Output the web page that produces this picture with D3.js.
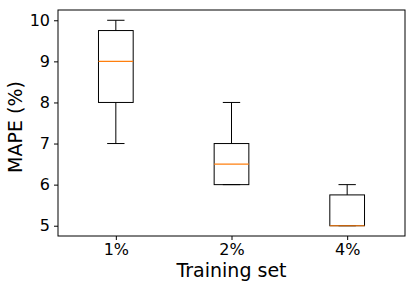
<!DOCTYPE html>
<html>
<head>
<meta charset="utf-8">
<script src="https://cdn.jsdelivr.net/npm/d3@7"></script>
<style>
  body { margin: 0; background: #fff; }
  svg text { font-family: "DejaVu Sans", sans-serif; fill: #000; }
</style>
</head>
<body>
<div id="chart"></div>
<script>
// Categories and box statistics
const categories = ["1%", "2%", "4%"];
const whiskerLow = [7, 6, 5];
const q1 = [8, 6, 5];
const median = [9, 6.5, 5];
const q3 = [9.75, 7, 5.75];
const whiskerHigh = [10, 8, 6];
const yTicks = [5, 6, 7, 8, 9, 10];

const width = 416, height = 289;
const margin = { top: 10, right: 11, bottom: 53, left: 58 };
const innerW = width - margin.left - margin.right;
const innerH = height - margin.top - margin.bottom;

const svg = d3.select("#chart")
    .append("svg")
    .attr("width", width)
    .attr("height", height);

const g = svg.append("g")
    .attr("transform", "translate(" + margin.left + "," + margin.top + ")");

// x in box-position units (1..3), matplotlib style
const x = d3.scaleLinear().domain([0.5, 3.5]).range([0, innerW]);
const y = d3.scaleLinear().domain([4.75, 10.25]).range([innerH, 0]);

const boxW = 0.3, capW = 0.15;

const data = categories.map((c, i) => ({
    pos: i + 1, lo: whiskerLow[i], q1: q1[i], med: median[i], q3: q3[i], hi: whiskerHigh[i]
}));

const boxes = g.selectAll(".box").data(data).enter().append("g").attr("class", "box");

// whiskers
boxes.append("line")
    .attr("x1", d => x(d.pos)).attr("x2", d => x(d.pos))
    .attr("y1", d => y(d.q3)).attr("y2", d => y(d.hi))
    .attr("stroke", "#000").attr("stroke-width", 1);
boxes.append("line")
    .attr("x1", d => x(d.pos)).attr("x2", d => x(d.pos))
    .attr("y1", d => y(d.q1)).attr("y2", d => y(d.lo))
    .attr("stroke", "#000").attr("stroke-width", 1);

// caps
boxes.append("line")
    .attr("x1", d => x(d.pos - capW / 2)).attr("x2", d => x(d.pos + capW / 2))
    .attr("y1", d => y(d.hi)).attr("y2", d => y(d.hi))
    .attr("stroke", "#000").attr("stroke-width", 1);
boxes.append("line")
    .attr("x1", d => x(d.pos - capW / 2)).attr("x2", d => x(d.pos + capW / 2))
    .attr("y1", d => y(d.lo)).attr("y2", d => y(d.lo))
    .attr("stroke", "#000").attr("stroke-width", 1);

// box
boxes.append("rect")
    .attr("x", d => x(d.pos - boxW / 2))
    .attr("width", d => x(d.pos + boxW / 2) - x(d.pos - boxW / 2))
    .attr("y", d => y(d.q3))
    .attr("height", d => y(d.q1) - y(d.q3))
    .attr("fill", "none").attr("stroke", "#000").attr("stroke-width", 1);

// median
boxes.append("line")
    .attr("x1", d => x(d.pos - boxW / 2)).attr("x2", d => x(d.pos + boxW / 2))
    .attr("y1", d => y(d.med)).attr("y2", d => y(d.med))
    .attr("stroke", "#ff7f0e").attr("stroke-width", 1.2);

// axes
const xAxis = g.append("g")
    .attr("transform", "translate(0," + innerH + ")")
    .call(d3.axisBottom(x).tickValues([1, 2, 3]).tickFormat((d, i) => categories[i])
        .tickSize(4).tickPadding(4));
const yAxis = g.append("g")
    .call(d3.axisLeft(y).tickValues(yTicks).tickFormat(d3.format("d"))
        .tickSize(4).tickPadding(4));

[xAxis, yAxis].forEach(a => {
    a.select(".domain").remove();
    a.selectAll("text").style("font-size", "16px").attr("fill", "#000");
    a.selectAll("line").attr("stroke", "#000");
});

// frame
g.append("rect")
    .attr("width", innerW).attr("height", innerH)
    .attr("fill", "none").attr("stroke", "#000").attr("stroke-width", 1);

// axis labels
svg.append("text")
    .attr("x", margin.left + innerW / 2)
    .attr("y", 277)
    .attr("text-anchor", "middle")
    .style("font-size", "19px")
    .text("Training set");

svg.append("text")
    .attr("transform", "translate(22," + (margin.top + innerH / 2 + 4) + ") rotate(-90)")
    .attr("text-anchor", "middle")
    .style("font-size", "19px")
    .text("MAPE (%)");
</script>
</body>
</html>
